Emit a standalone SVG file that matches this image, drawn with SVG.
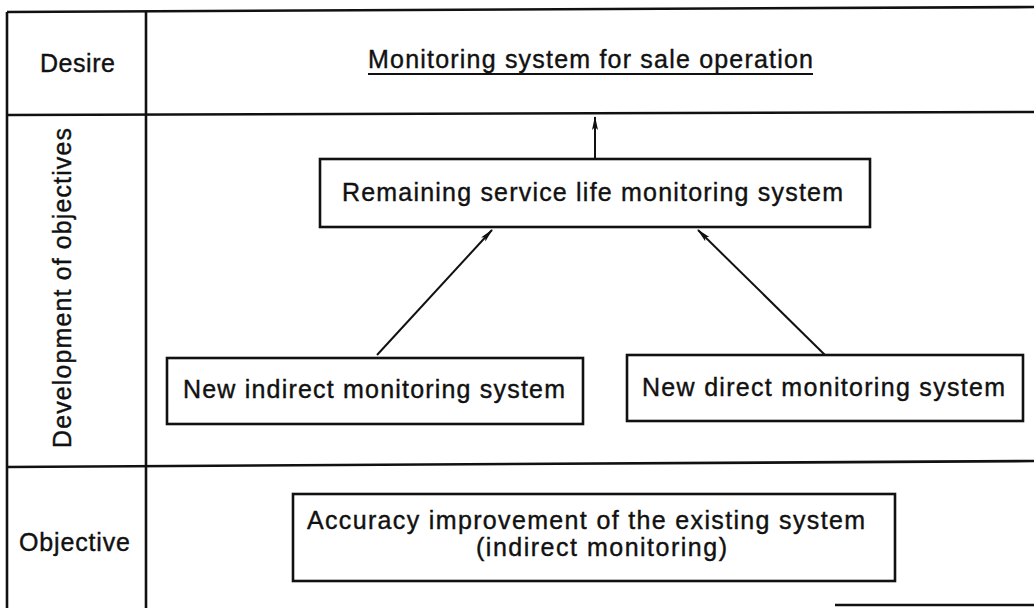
<svg xmlns="http://www.w3.org/2000/svg" width="1034" height="608" viewBox="0 0 1034 608">
<defs>
<style>
.t{font-family:"Liberation Sans",Arial,sans-serif;font-size:25px;fill:#111;stroke:#111;stroke-width:0.4;}
.grid{stroke:#111;stroke-width:2.6;fill:none;}
.box{stroke:#111;stroke-width:2.6;fill:#fff;}
.conn{stroke:#111;stroke-width:2;fill:none;marker-end:url(#ah);}
</style>
<marker id="ah" viewBox="0 0 14 8" refX="13" refY="4" markerWidth="14" markerHeight="8" markerUnits="userSpaceOnUse" orient="auto">
<path d="M0,1 L14,4 L0,7 L3,4 Z" fill="#111"/>
</marker>
</defs>
<rect x="0" y="0" width="1034" height="608" fill="#fff"/>
<g id="table">
<line class="grid" x1="7" y1="12" x2="1034" y2="7"/>
<line class="grid" x1="7" y1="115" x2="1034" y2="112"/>
<line class="grid" x1="7" y1="467" x2="1034" y2="461"/>
<line class="grid" x1="835" y1="605" x2="1034" y2="605"/>
<line class="grid" x1="7" y1="12" x2="7" y2="608"/>
<line class="grid" x1="146" y1="12" x2="146" y2="608"/>
</g>
<g id="label-desire"><text class="t" x="40" y="72" textLength="75" lengthAdjust="spacing">Desire</text></g>
<g id="label-development"><text class="t" transform="translate(71,448) rotate(-90)" x="0" y="0" textLength="320" lengthAdjust="spacing">Development of objectives</text></g>
<g id="label-objective"><text class="t" x="19" y="551" textLength="111" lengthAdjust="spacing">Objective</text></g>
<g id="desire">
<text class="t" x="368" y="68" textLength="445" lengthAdjust="spacing">Monitoring system for sale operation</text>
<line x1="368" y1="74" x2="813" y2="74" stroke="#111" stroke-width="2"/>
</g>
<g id="connectors">
<line class="conn" x1="595" y1="158" x2="595" y2="117"/>
<line class="conn" x1="377" y1="355" x2="492" y2="230"/>
<line class="conn" x1="825" y1="355" x2="698" y2="230"/>
</g>
<g id="remaining">
<rect class="box" x="320" y="159" width="550" height="68"/>
<text class="t" x="342" y="201" textLength="501" lengthAdjust="spacing">Remaining service life monitoring system</text>
</g>
<g id="indirect">
<rect class="box" x="167" y="358" width="416" height="66"/>
<text class="t" x="183" y="398" textLength="382" lengthAdjust="spacing">New indirect monitoring system</text>
</g>
<g id="direct">
<rect class="box" x="627" y="355" width="396" height="66"/>
<text class="t" x="642" y="396" textLength="363" lengthAdjust="spacing">New direct monitoring system</text>
</g>
<g id="accuracy">
<rect class="box" x="293" y="494" width="602" height="87"/>
<text class="t" x="307" y="529" textLength="558" lengthAdjust="spacing">Accuracy improvement of the existing system</text>
<text class="t" x="476" y="556" textLength="251" lengthAdjust="spacing">(indirect monitoring)</text>
</g>
</svg>
